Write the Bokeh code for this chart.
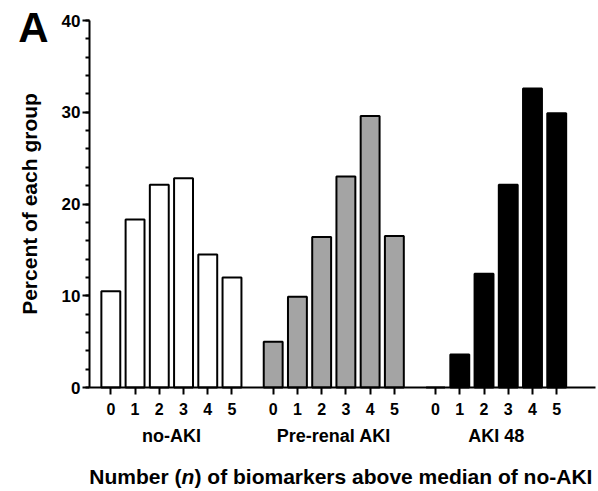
from bokeh.plotting import figure
from bokeh.models import Range1d, FixedTicker, Label, LinearAxis
from bokeh.embed import file_html
from bokeh.resources import INLINE

# Percent of each group with n biomarkers above the no-AKI median
groups = ["no-AKI", "Pre-renal AKI", "AKI 48"]
n_labels = ["0", "1", "2", "3", "4", "5"]
no_aki = [10.5, 18.3, 22.1, 22.8, 14.5, 12.0]
pre_renal = [5.0, 9.9, 16.4, 23.0, 29.6, 16.5]
aki_48 = [0.0, 3.6, 12.4, 22.1, 32.6, 29.9]
series = [no_aki, pre_renal, aki_48]
fills = ["white", "#a4a4a4", "black"]
y_ticks = [0, 10, 20, 30, 40]

FONT = "Liberation Sans"
GROUP_STEP = 6.7
BAR_W = 0.78

# axis extents (data units); the frame covers the whole canvas so that
# the labels around the axes are drawn inside it
AX_X0, AX_X1 = -0.88, 20.0
AX_Y0, AX_Y1 = 0, 40
W, H = 598, 491
PX_X = 506 / (AX_X1 - AX_X0)
PX_Y = 367 / (AX_Y1 - AX_Y0)
x_range = Range1d(AX_X0 - 89 / PX_X, AX_X1 + 3 / PX_X)
y_range = Range1d(AX_Y0 - 104 / PX_Y, AX_Y1 + 20 / PX_Y)

p = figure(width=W, height=H, output_backend="svg", toolbar_location=None,
           x_range=x_range, y_range=y_range,
           x_axis_location=None, y_axis_location=None, min_border=0)
p.outline_line_color = None
p.xgrid.visible = False
p.ygrid.visible = False
p.background_fill_color = "white"
p.border_fill_color = "white"

tick_pos = []
tick_text = {}
for g, vals in enumerate(series):
    xs = [round(g * GROUP_STEP + i, 2) for i in range(len(vals))]
    p.vbar(x=xs, top=vals, width=BAR_W, bottom=0,
           fill_color=fills[g], line_color="black", line_width=2)
    for x, lab in zip(xs, n_labels):
        tick_pos.append(x)
        tick_text[x] = lab

# x axis: one tick per bar, labelled 0..5
xa = LinearAxis(fixed_location=AX_Y0, bounds=(AX_X0, AX_X1))
xa.ticker = FixedTicker(ticks=tick_pos, minor_ticks=[])
xa.major_label_overrides = tick_text
xa.axis_line_width = 2
xa.major_tick_line_width = 2
xa.major_tick_out = 7
xa.major_tick_in = 0
xa.minor_tick_out = 0
xa.minor_tick_in = 0
xa.major_label_text_font = FONT
xa.major_label_text_font_style = "bold"
xa.major_label_text_font_size = "16px"
xa.major_label_text_color = "black"
xa.major_label_standoff = 8
p.add_layout(xa, "below")

# y axis
ya = LinearAxis(fixed_location=AX_X0, bounds=(AX_Y0, AX_Y1))
ya.ticker = FixedTicker(ticks=y_ticks, minor_ticks=list(range(0, 41, 2)))
ya.axis_line_width = 2
ya.major_tick_line_width = 2
ya.minor_tick_line_width = 2
ya.major_tick_out = 7
ya.major_tick_in = 0
ya.minor_tick_out = 4
ya.minor_tick_in = 0
ya.major_label_text_font = FONT
ya.major_label_text_font_style = "bold"
ya.major_label_text_font_size = "17px"
ya.major_label_text_color = "black"
ya.major_label_standoff = 2
ya.axis_label = "Percent of each group"
ya.axis_label_text_font = FONT
ya.axis_label_text_font_style = "bold"
ya.axis_label_text_font_size = "21px"
ya.axis_label_text_color = "black"
ya.axis_label_standoff = 18
p.add_layout(ya, "left")

# group names under the tick labels
for g, name in enumerate(groups):
    p.add_layout(Label(x=g * GROUP_STEP + 2.5, y=-5.25, text=name,
                       text_font=FONT, text_font_style="bold",
                       text_font_size="18px", text_align="center",
                       text_baseline="middle", text_color="black"))

# axis title with an italic n
title_y = -9.65
title_parts = [
    ("Number (", "bold", "right", 92),
    ("n", "bold italic", "left", 92),
    (") of biomarkers above median of no-AKI", "bold", "left", 105),
]
for txt, style, align, off in title_parts:
    p.add_layout(Label(x=AX_X0, y=title_y, x_offset=off, text=txt,
                       text_font=FONT, text_font_style=style,
                       text_font_size="21px", text_align=align,
                       text_baseline="middle", text_color="black"))

# panel letter
p.add_layout(Label(x=AX_X0, y=39.2, x_offset=-56, text="A",
                   text_font=FONT, text_font_style="bold",
                   text_font_size="42px", text_align="center",
                   text_baseline="middle", text_color="black"))

open("out.html", "w").write(file_html(p, INLINE))
